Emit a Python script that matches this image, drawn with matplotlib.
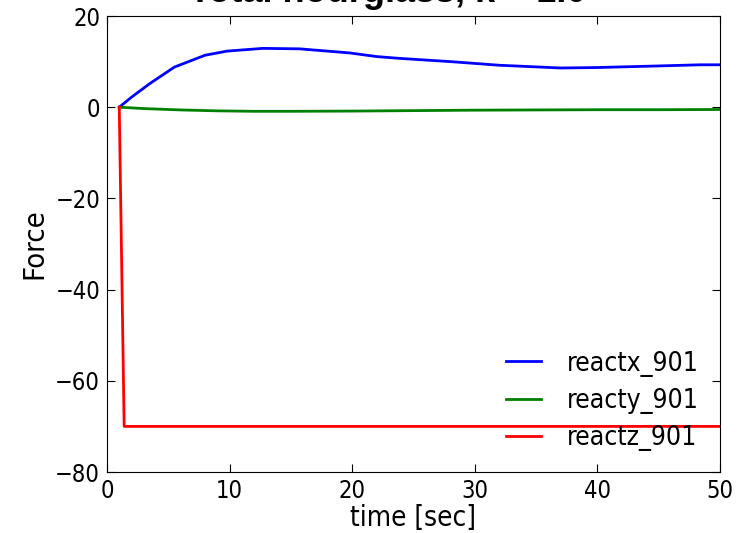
import matplotlib
matplotlib.use("Agg")
import matplotlib.pyplot as plt

title = "Total hourglass, k = 1.0"
t_x = [1.0, 2.0, 3.5, 5.5, 8.0, 9.8, 12.7, 15.7, 19.8, 22.0, 23.9, 28.0, 32.0, 37.0, 40.0, 44.3, 48.4, 50.0]
reactx = [0.0, 2.2, 5.2, 8.8, 11.4, 12.3, 12.9, 12.8, 11.9, 11.1, 10.7, 10.0, 9.2, 8.6, 8.7, 9.0, 9.3, 9.3]
t_y = [1.0, 3.0, 6.0, 9.0, 12.0, 15.0, 20.0, 25.0, 30.0, 35.0, 40.0, 45.0, 50.0]
reacty = [0.0, -0.3, -0.6, -0.8, -0.9, -0.9, -0.85, -0.75, -0.65, -0.6, -0.55, -0.55, -0.5]
t_z = [1.0, 1.4, 5.0, 10.0, 20.0, 30.0, 40.0, 50.0]
reactz = [0.0, -70.0, -70.0, -70.0, -70.0, -70.0, -70.0, -70.0]
labels = ["reactx_901", "reacty_901", "reactz_901"]

plt.rcParams["font.stretch"] = "condensed"

fig = plt.figure(figsize=(7.46, 5.33), dpi=100)
ax = fig.add_axes([107/746, 1-472/533, (720-107)/746, (472-16)/533])
ax.plot(t_x, reactx, color="#0000ff", lw=2, label=labels[0])
ax.plot(t_y, reacty, color="#008000", lw=2, label=labels[1])
ax.plot(t_z, reactz, color="#ff0000", lw=2, label=labels[2])
ax.set_xlim(0, 50)
ax.set_ylim(-80, 20)
ax.set_xticks([0, 10, 20, 30, 40, 50])
ax.set_yticks([-80, -60, -40, -20, 0, 20])
ax.tick_params(direction="in", top=True, right=True, labelsize=17, length=6, pad=5)
ax.set_xlabel("time [sec]", fontsize=20, labelpad=1)
ax.set_ylabel("Force", fontsize=21, labelpad=5)
leg = ax.legend(loc="lower right", frameon=False, fontsize=19, handlelength=1.33,
                handletextpad=1.0, labelspacing=0.42, borderaxespad=0.4)
fig.text(388/746, 1 - 2/533, title, ha="center", va="baseline", fontsize=26,
         fontweight="bold", fontstretch="normal", family=["Liberation Sans", "DejaVu Sans"])
fig.savefig("out.png", dpi=100)
